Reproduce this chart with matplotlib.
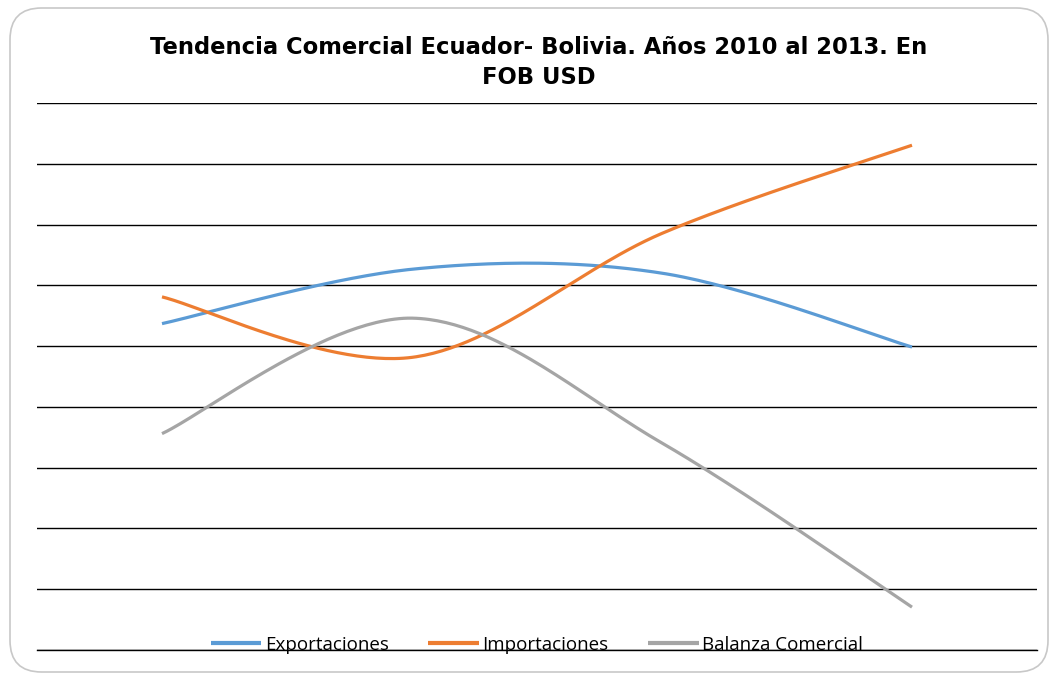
import numpy as np
import matplotlib
matplotlib.use("Agg")
import matplotlib.pyplot as plt
from matplotlib.patches import FancyBboxPatch

# Data (millions of USD FOB)
years = ["2010", "2011", "2012", "2013"]
exportaciones = [27.4, 45.3, 44.0, 19.7]
importaciones = [36.2, 16.3, 57.1, 86.1]
balanza = [-8.8, 29.2, -11.9, -65.9]

series_names = ["Exportaciones", "Importaciones", "Balanza Comercial"]
colors = ["#5B9BD5", "#ED7D31", "#A5A5A5"]


def smooth(xs, ys, n=60):
    """Excel-like smoothed line: cubic Bezier through each data point."""
    xs = np.asarray(xs, float)
    ys = np.asarray(ys, float)
    pts = np.column_stack([xs, ys])
    out = []
    m = len(pts)
    t = np.linspace(0, 1, n)[:, None]
    for i in range(m - 1):
        p0 = pts[i]
        p3 = pts[i + 1]
        pm = pts[i - 1] if i > 0 else pts[i]
        pp = pts[i + 2] if i + 2 < m else pts[i + 1]
        c1 = p0 + (p3 - pm) / 6.0
        c2 = p3 - (pp - p0) / 6.0
        seg = ((1 - t) ** 3) * p0 + 3 * ((1 - t) ** 2) * t * c1 + 3 * (1 - t) * t ** 2 * c2 + t ** 3 * p3
        out.append(seg if i == 0 else seg[1:])
    out = np.vstack(out)
    return out[:, 0], out[:, 1]


W, H = 1052, 674
fig = plt.figure(figsize=(W / 100, H / 100), dpi=100)
fig.patch.set_facecolor("white")

# rounded chart border
border = FancyBboxPatch((10 / W, 2 / H), 1038 / W, 664 / H,
                        boxstyle="round,pad=0,rounding_size=0.03",
                        transform=fig.transFigure, facecolor="none",
                        edgecolor="#C8C8C8", linewidth=1.2,
                        mutation_aspect=W / H)
fig.patches.append(border)

ax = fig.add_axes([37 / W, (H - 650) / H, 1000 / W, (650 - 103) / H])
ax.set_xlim(-0.5, len(years) - 0.5)
ax.set_ylim(-80, 100)
ax.set_yticks(np.arange(-80, 101, 20))
ax.set_xticks(range(len(years)))
ax.tick_params(left=False, bottom=False, labelleft=False, labelbottom=False)
for s in ax.spines.values():
    s.set_visible(False)
ax.spines["bottom"].set_visible(True)
ax.spines["bottom"].set_color("black")
ax.spines["bottom"].set_linewidth(1.0)
ax.grid(axis="y", color="black", linewidth=1.0)
ax.set_axisbelow(True)

xs = np.arange(len(years))
for name, vals, c in zip(series_names, [exportaciones, importaciones, balanza], colors):
    sx, sy = smooth(xs, vals)
    ax.plot(sx, sy, color=c, linewidth=2.3, label=name, solid_capstyle="butt")

leg = ax.legend(loc="center", bbox_to_anchor=(0.5, 1 - (645 - 103) / (650 - 103)),
                ncol=3, frameon=False, handlelength=2.7, columnspacing=2.1,
                handletextpad=0.2,
                prop={"family": ["Open Sans", "DejaVu Sans"], "size": 13.5})
for line in leg.get_lines():
    line.set_linewidth(3)

title_font = dict(ha="center", va="center", fontsize=16.3, fontweight="bold",
                  family=["DejaVu Sans"])
fig.text(0.5 * (150 + 928) / W, 1 - 47 / H,
         "Tendencia Comercial Ecuador- Bolivia. Años 2010 al 2013. En", **title_font)
fig.text(0.5 * (150 + 928) / W, 1 - 77 / H, "FOB USD", **title_font)

fig.savefig("out.png", dpi=100)
